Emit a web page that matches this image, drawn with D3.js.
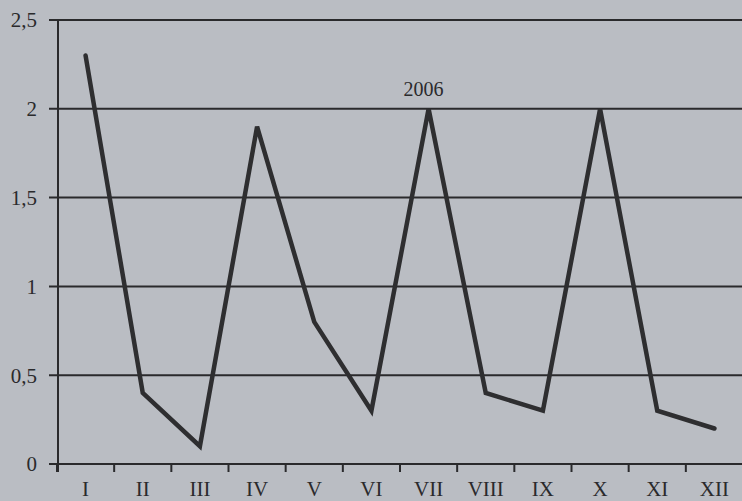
<!DOCTYPE html>
<html>
<head>
<meta charset="utf-8">
<script src="https://cdn.jsdelivr.net/npm/d3@7"></script>
<style>
  html, body { margin: 0; padding: 0; background: #babdc3; }
  svg { display: block; }
</style>
</head>
<body>
<svg id="chart"></svg>
<script>
const months = ["I", "II", "III", "IV", "V", "VI", "VII", "VIII", "IX", "X", "XI", "XII"];
const values = [2.3, 0.4, 0.1, 1.9, 0.8, 0.3, 2.0, 0.4, 0.3, 2.0, 0.3, 0.2];
const yTicks = [0, 0.5, 1, 1.5, 2, 2.5];
const yearLabel = "2006";

const width = 742;
const height = 501;
const marginTop = 20;
const marginRight = -1;
const marginBottom = 37;
const marginLeft = 57;
const serif = "'Liberation Serif', 'DejaVu Serif', serif";

const data = months.map((m, i) => ({ month: m, value: values[i] }));

const x = d3.scaleBand()
    .domain(months)
    .range([marginLeft, width - marginRight]);

const y = d3.scaleLinear()
    .domain([0, 2.5])
    .range([height - marginBottom, marginTop]);

const svg = d3.select("#chart")
    .attr("width", width)
    .attr("height", height)
    .attr("viewBox", [0, 0, width, height])
    .style("font-family", serif);

svg.append("rect")
    .attr("width", width)
    .attr("height", height)
    .attr("fill", "#babdc3");

const ink = "#2a2a2c";

// horizontal gridlines (also the y tick marks)
svg.append("g")
    .selectAll("line")
    .data(yTicks.filter(d => d > 0))
    .join("line")
    .attr("x1", marginLeft - 8)
    .attr("x2", width)
    .attr("y1", d => y(d))
    .attr("y2", d => y(d))
    .attr("stroke", ink)
    .attr("stroke-width", 2);

// y labels
svg.append("g")
    .selectAll("text")
    .data(yTicks)
    .join("text")
    .attr("x", 37)
    .attr("y", d => y(d))
    .attr("dy", "0.35em")
    .attr("text-anchor", "end")
    .attr("fill", ink)
    .style("font-size", "21px")
    .text(d => String(d).replace(".", ","));

// x labels
svg.append("g")
    .selectAll("text")
    .data(months)
    .join("text")
    .attr("x", d => x(d) + x.bandwidth() / 2)
    .attr("y", 496)
    .attr("text-anchor", "middle")
    .attr("fill", ink)
    .style("font-size", "21px")
    .text(d => d);

// x axis line
svg.append("line")
    .attr("x1", marginLeft - 8)
    .attr("x2", width)
    .attr("y1", y(0))
    .attr("y2", y(0))
    .attr("stroke", ink)
    .attr("stroke-width", 2);

// tick marks between months
svg.append("g")
    .selectAll("line")
    .data(months)
    .join("line")
    .attr("x1", d => x(d))
    .attr("x2", d => x(d))
    .attr("y1", y(0))
    .attr("y2", y(0) + 8)
    .attr("stroke", ink)
    .attr("stroke-width", 2);

// y axis
svg.append("line")
    .attr("x1", marginLeft + 1)
    .attr("x2", marginLeft + 1)
    .attr("y1", y(2.5))
    .attr("y2", y(0) + 8)
    .attr("stroke", ink)
    .attr("stroke-width", 2);

// series line
const line = d3.line()
    .x(d => x(d.month) + x.bandwidth() / 2)
    .y(d => y(d.value));

svg.append("path")
    .datum(data)
    .attr("fill", "none")
    .attr("stroke", "#2e2e30")
    .attr("stroke-width", 4.5)
    .attr("stroke-linejoin", "miter")
    .attr("stroke-linecap", "round")
    .attr("d", line);

svg.append("text")
    .attr("x", x("VII") + x.bandwidth() / 2 - 5)
    .attr("y", y(2) - 13)
    .attr("text-anchor", "middle")
    .attr("fill", ink)
    .style("font-size", "20px")
    .text(yearLabel);
</script>
</body>
</html>
